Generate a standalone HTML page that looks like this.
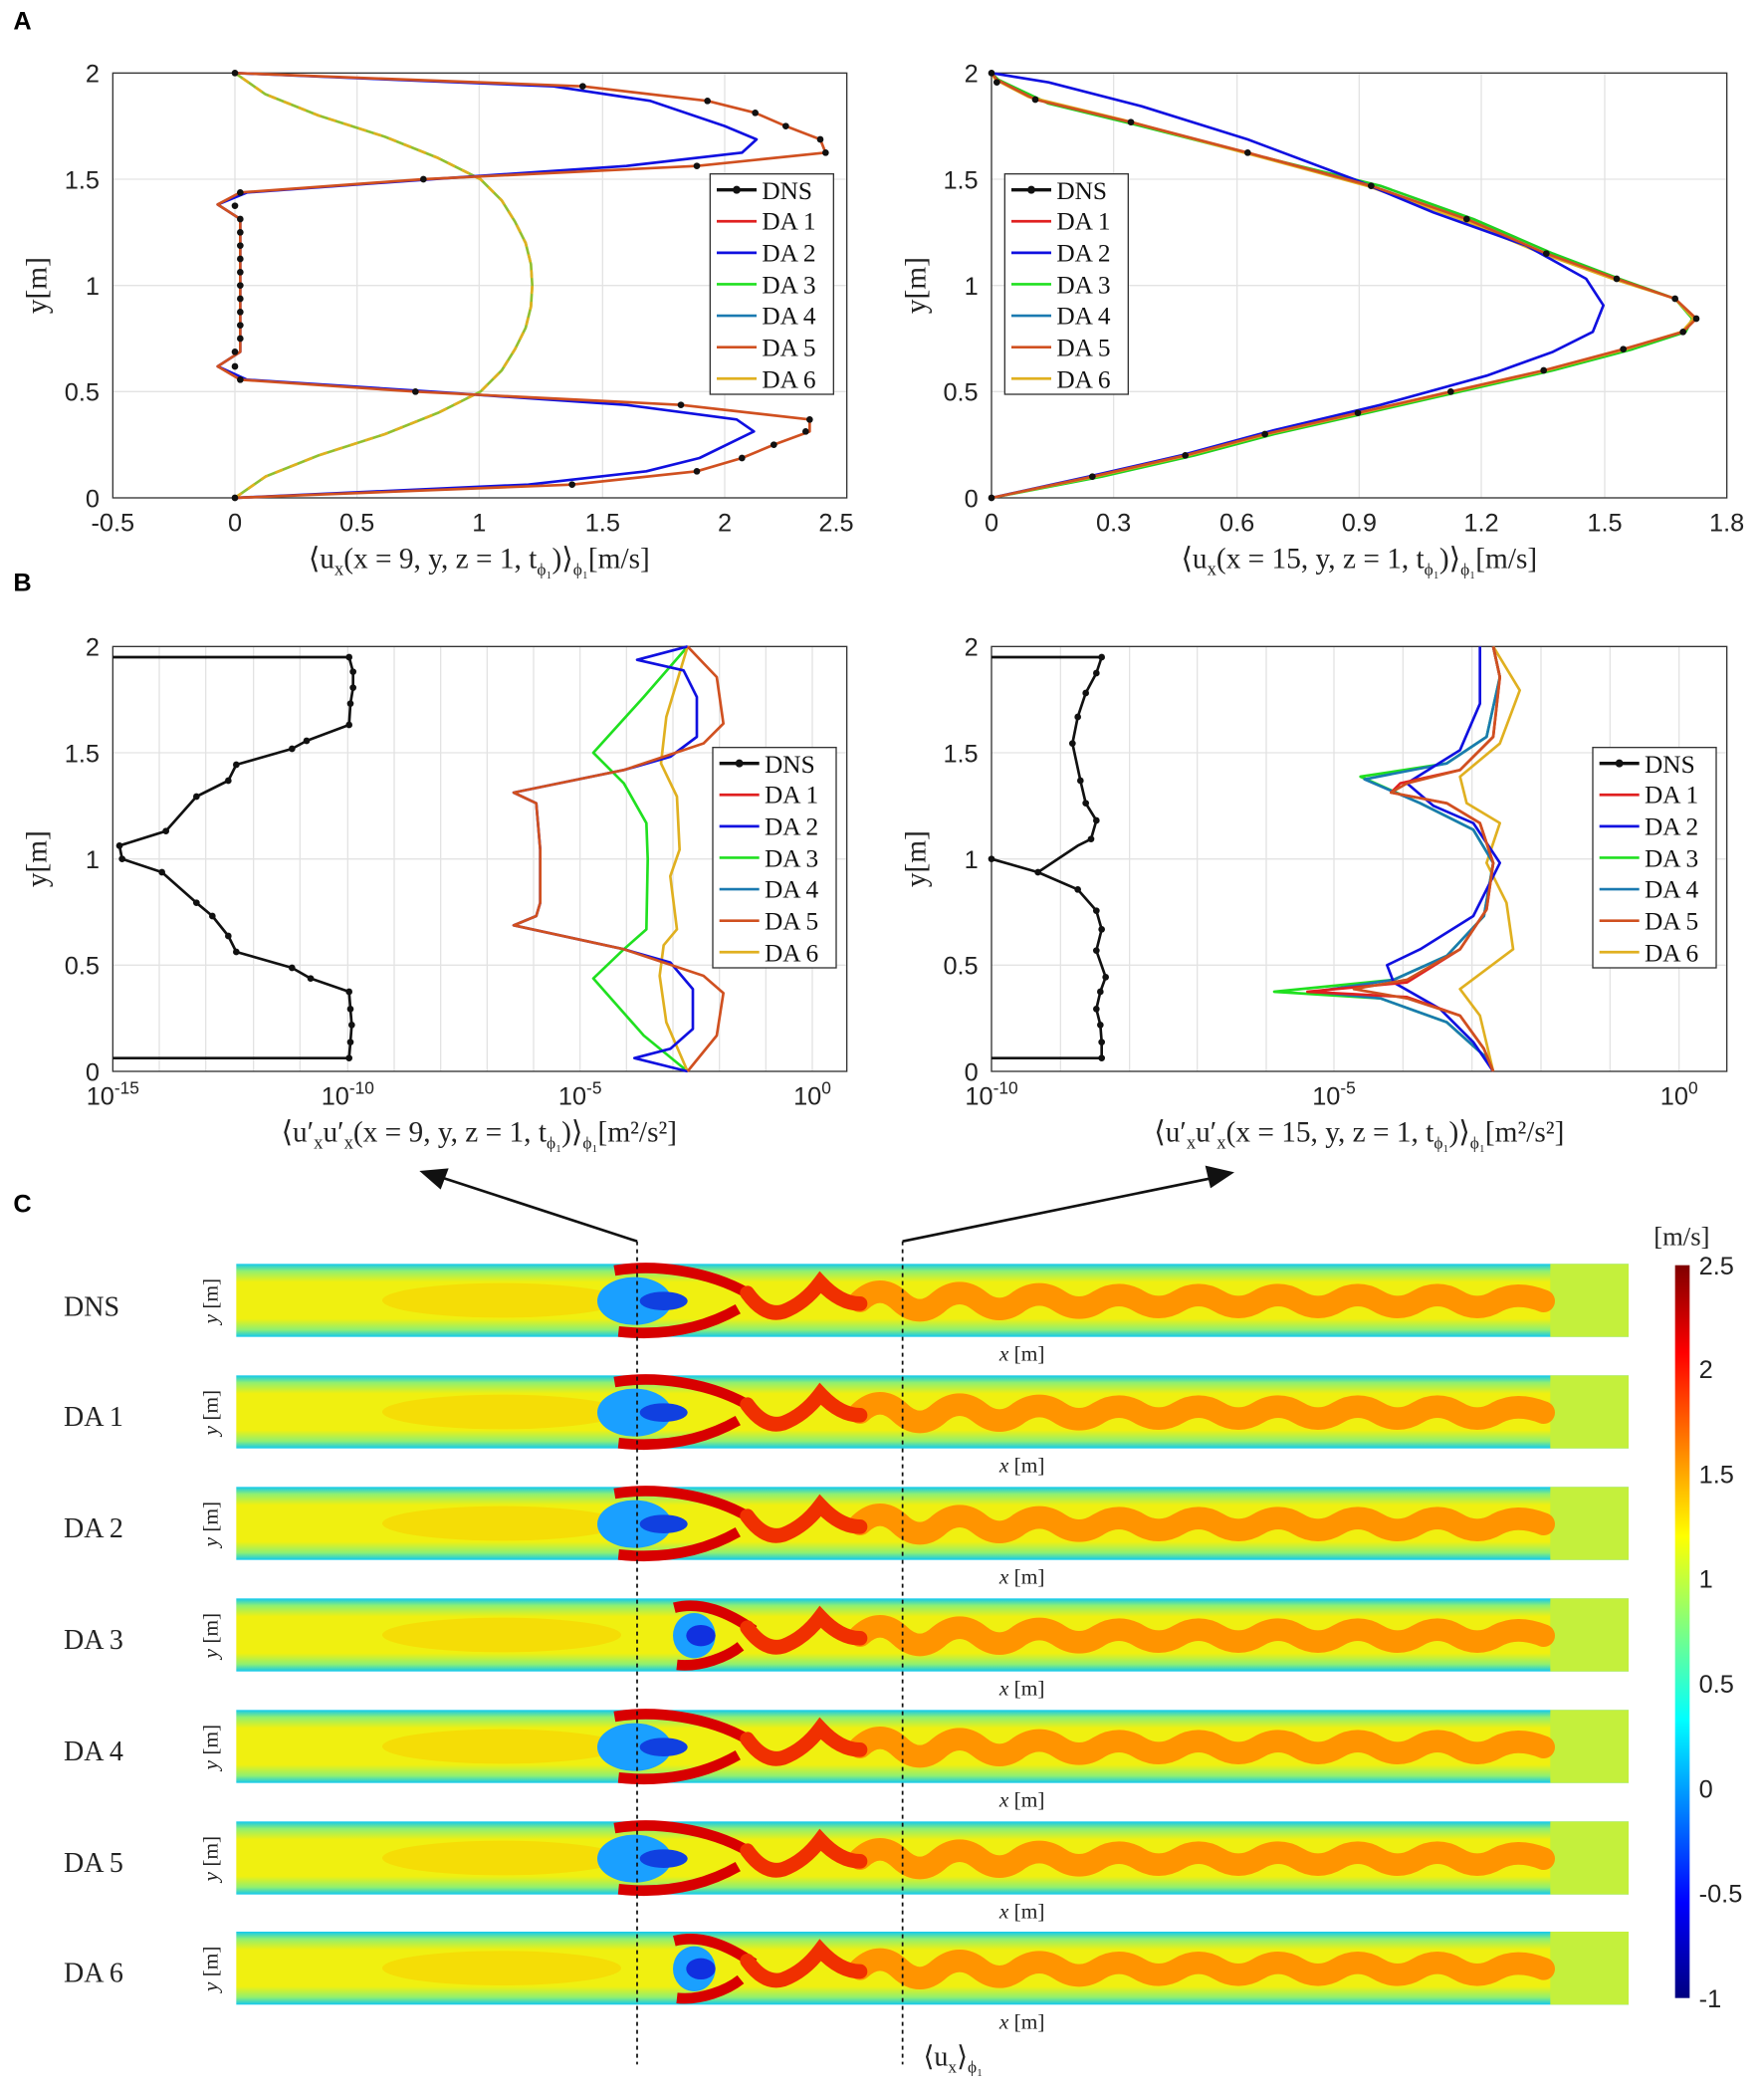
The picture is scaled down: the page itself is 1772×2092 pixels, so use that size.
<!DOCTYPE html>
<html><head><meta charset="utf-8"><style>
html,body{margin:0;padding:0;background:#fff}
svg{display:block}
.t{font-family:"Liberation Sans",sans-serif;font-size:19px;fill:#222}
.s{font-family:"Liberation Serif",serif;fill:#222}
.lg{font-family:"Liberation Serif",serif;font-size:19px;fill:#111}
.P{font-family:"Liberation Sans",sans-serif;font-weight:bold;font-size:19px}
.g{stroke:#e3e3e3;stroke-width:1}
.ax{fill:none;stroke:#333;stroke-width:1}
.c{fill:none;stroke-width:2;stroke-linejoin:round}
</style></head><body>
<svg width="1772" height="2092" viewBox="0 0 1329 1569" preserveAspectRatio="none" xmlns="http://www.w3.org/2000/svg">
<defs>
<linearGradient id="bg" x1="0" y1="0" x2="0" y2="1">
<stop offset="0" stop-color="#10c8f0"/><stop offset="0.1" stop-color="#90f070"/><stop offset="0.25" stop-color="#f0f010"/><stop offset="0.75" stop-color="#f0f010"/><stop offset="0.9" stop-color="#90f070"/><stop offset="1" stop-color="#10c8f0"/></linearGradient>
<linearGradient id="cb" x1="0" y1="0" x2="0" y2="1">
<stop offset="0" stop-color="#800000"/><stop offset="0.12" stop-color="#ff0000"/><stop offset="0.37" stop-color="#ffff00"/><stop offset="0.62" stop-color="#00ffff"/><stop offset="0.87" stop-color="#0000ff"/><stop offset="1" stop-color="#000080"/></linearGradient>
<g id="strip">
<rect x="0" y="0" width="1049" height="55" fill="url(#bg)"/>
<ellipse cx="200" cy="27.5" rx="90" ry="13" fill="#f8d000" opacity="0.6"/>
<rect x="990" y="0" width="59" height="55" fill="#c4f03c"/>
<path d="M470 28 Q 485 14 500 28 T 530 28 Q 545 16 560 28 T 590 28 Q 605 18 620 28 T 650 28 Q 665 19 680 28 T 710 28 Q 725 19 740 28 T 770 28 Q 785 19 800 28 T 830 28 Q 845 19 860 28 T 890 28 Q 905 19 920 28 T 950 28 Q 965 20 985 28" fill="none" stroke="#ff9400" stroke-width="17" stroke-linecap="round"/>
</g>
<g id="wakeA">
<ellipse cx="300" cy="28" rx="28" ry="18" fill="#1aa0ff"/>
<ellipse cx="322" cy="28" rx="18" ry="7" fill="#1040e0"/>
<path d="M285 5 C 315 0, 355 5, 385 22" fill="none" stroke="#d80000" stroke-width="8"/>
<path d="M288 51 C 325 55, 355 47, 378 34" fill="none" stroke="#d80000" stroke-width="8"/>
<path d="M385 22 Q 398 40 412 36 Q 428 30 440 14 Q 455 30 470 30" fill="none" stroke="#f03000" stroke-width="11" stroke-linecap="round"/>
</g>
<g id="wakeB">
<ellipse cx="345" cy="28" rx="16" ry="17" fill="#1aa0ff"/>
<ellipse cx="350" cy="28" rx="11" ry="8" fill="#1030e0"/>
<path d="M330 7 C 350 2, 370 10, 390 24" fill="none" stroke="#d80000" stroke-width="8"/>
<path d="M332 50 C 350 52, 370 44, 380 36" fill="none" stroke="#d80000" stroke-width="8"/>
<path d="M385 22 Q 398 40 412 36 Q 428 30 440 14 Q 455 30 470 30" fill="none" stroke="#f03000" stroke-width="11" stroke-linecap="round"/>
</g>
<g id="legend">
<rect x="0" y="0" width="93" height="166" fill="#fff" stroke="#333"/>
<line x1="5" y1="12" x2="35" y2="12" stroke="#111" stroke-width="2.5"/><circle cx="20" cy="12" r="3" fill="#111"/>
<line x1="5" y1="35.7" x2="35" y2="35.7" stroke="#e02020" stroke-width="2"/>
<line x1="5" y1="59.4" x2="35" y2="59.4" stroke="#1010e0" stroke-width="2"/>
<line x1="5" y1="83.1" x2="35" y2="83.1" stroke="#20e020" stroke-width="2"/>
<line x1="5" y1="106.8" x2="35" y2="106.8" stroke="#1a7ab0" stroke-width="2"/>
<line x1="5" y1="130.5" x2="35" y2="130.5" stroke="#d05020" stroke-width="2"/>
<line x1="5" y1="154.2" x2="35" y2="154.2" stroke="#e0b020" stroke-width="2"/>
</g>
</defs>

<text class="P" x="10" y="22">A</text>
<text class="P" x="10" y="445">B</text>
<text class="P" x="10" y="913">C</text>

<!-- Panel A left -->
<g>
<path class="g" d="M177 55V375M269 55V375M361 55V375M454 55V375M546 55V375M85 135H638M85 215H638M85 295H638"/>
<rect class="ax" x="85" y="55" width="553" height="320"/>
<g class="t" text-anchor="end"><text x="75" y="62">2</text><text x="75" y="142">1.5</text><text x="75" y="222">1</text><text x="75" y="302">0.5</text><text x="75" y="382">0</text></g>
<g class="t" text-anchor="middle"><text x="85" y="400">-0.5</text><text x="177" y="400">0</text><text x="269" y="400">0.5</text><text x="361" y="400">1</text><text x="454" y="400">1.5</text><text x="546" y="400">2</text><text x="630" y="400">2.5</text></g>
<text class="s" x="361" y="428" text-anchor="middle" font-size="22">⟨u<tspan font-size="14" dy="5">x</tspan><tspan dy="-5">(x = 9, y, z = 1, t</tspan><tspan font-size="13" dy="5">ϕ₁</tspan><tspan dy="-5">)⟩</tspan><tspan font-size="13" dy="5">ϕ₁</tspan><tspan dy="-5">[m/s]</tspan></text>
<text class="s" transform="translate(35 215) rotate(-90)" text-anchor="middle" font-size="22">y[m]</text>
<polyline class="c" stroke="#90c030" points="177,375 200,359 240,343 290,327 330,311 362,295 378,279 388,263 396,247 400,231 401,215 400,199 396,183 388,167 378,151 362,135 330,119 290,103 240,87 200,71 177,55"/>
<polyline class="c" stroke="#e0b020" stroke-dasharray="6 6" points="177,375 200,359 240,343 290,327 330,311 362,295 378,279 388,263 396,247 400,231 401,215 400,199 396,183 388,167 378,151 362,135 330,119 290,103 240,87 200,71 177,55"/>
<polyline class="c" stroke="#1010e0" points="177,55 417,65 490,76 546,95 570,105 559,115 472,125 325,135 186,145 164,154 181,165 181,265 164,276 186,286 325,295 472,305 555,316 568,325 527,345 487,355 398,365 177,375"/>
<polyline class="c" stroke="#d05020" points="177,55 439,65 533,76 569,85 592,95 618,105 622,115 525,125 319,135 181,145 164,154 181,165 181,265 164,276 181,286 313,295 513,305 610,316 610,325 583,335 559,345 525,355 431,365 177,375"/>
<g fill="#111"><circle cx="177" cy="55" r="2.5"/><circle cx="439" cy="65" r="2.5"/><circle cx="533" cy="76" r="2.5"/><circle cx="569" cy="85" r="2.5"/><circle cx="592" cy="95" r="2.5"/><circle cx="618" cy="105" r="2.5"/><circle cx="622" cy="115" r="2.5"/><circle cx="525" cy="125" r="2.5"/><circle cx="319" cy="135" r="2.5"/><circle cx="181" cy="145" r="2.5"/><circle cx="177" cy="155" r="2.5"/><circle cx="181" cy="165" r="2.5"/><circle cx="181" cy="175" r="2.5"/><circle cx="181" cy="185" r="2.5"/><circle cx="181" cy="195" r="2.5"/><circle cx="181" cy="205" r="2.5"/><circle cx="181" cy="215" r="2.5"/><circle cx="181" cy="225" r="2.5"/><circle cx="181" cy="235" r="2.5"/><circle cx="181" cy="245" r="2.5"/><circle cx="181" cy="255" r="2.5"/><circle cx="177" cy="265" r="2.5"/><circle cx="177" cy="276" r="2.5"/><circle cx="181" cy="286" r="2.5"/><circle cx="313" cy="295" r="2.5"/><circle cx="513" cy="305" r="2.5"/><circle cx="610" cy="316" r="2.5"/><circle cx="607" cy="325" r="2.5"/><circle cx="583" cy="335" r="2.5"/><circle cx="559" cy="345" r="2.5"/><circle cx="525" cy="355" r="2.5"/><circle cx="431" cy="365" r="2.5"/><circle cx="177" cy="375" r="2.5"/></g>
</g>

<!-- Panel A right -->
<g>
<path class="g" d="M839 55V375M932 55V375M1024 55V375M1116 55V375M1209 55V375M747 135H1301M747 215H1301M747 295H1301"/>
<rect class="ax" x="747" y="55" width="554" height="320"/>
<g class="t" text-anchor="end"><text x="737" y="62">2</text><text x="737" y="142">1.5</text><text x="737" y="222">1</text><text x="737" y="302">0.5</text><text x="737" y="382">0</text></g>
<g class="t" text-anchor="middle"><text x="747" y="400">0</text><text x="839" y="400">0.3</text><text x="932" y="400">0.6</text><text x="1024" y="400">0.9</text><text x="1116" y="400">1.2</text><text x="1209" y="400">1.5</text><text x="1301" y="400">1.8</text></g>
<text class="s" x="1024" y="428" text-anchor="middle" font-size="22">⟨u<tspan font-size="14" dy="5">x</tspan><tspan dy="-5">(x = 15, y, z = 1, t</tspan><tspan font-size="13" dy="5">ϕ₁</tspan><tspan dy="-5">)⟩</tspan><tspan font-size="13" dy="5">ϕ₁</tspan><tspan dy="-5">[m/s]</tspan></text>
<text class="s" transform="translate(697 215) rotate(-90)" text-anchor="middle" font-size="22">y[m]</text>
<polyline class="c" stroke="#20d020" points="747,375 830,359 900,343 960,327 1030,311 1100,295 1170,279 1230,263 1270,250 1275,240 1262,225 1220,210 1170,191 1110,165 1040,140 950,118 860,95 790,78 752,60 747,55"/>
<polyline class="c" stroke="#e0b020" points="747,375 825,359 895,343 955,327 1025,311 1095,295 1165,279 1225,263 1267,250 1276,240 1262,225 1215,210 1162,191 1100,165 1030,140 930,113 845,90 775,73 750,60 747,55"/>
<polyline class="c" stroke="#1010e0" points="747,375 820,359 890,343 960,324 1040,305 1120,283 1170,265 1200,250 1208,230 1195,210 1150,185 1080,160 1020,135 940,105 860,80 790,62 747,55"/>
<polyline class="c" stroke="#d05020" points="747,375 823,359 893,343 953,327 1023,311 1093,295 1163,279 1223,263 1268,250 1278,240 1262,225 1218,210 1165,191 1105,165 1033,140 940,115 852,92 780,75 751,60 747,55"/>
<g fill="#111"><circle cx="747" cy="375" r="2.5"/><circle cx="823" cy="359" r="2.5"/><circle cx="893" cy="343" r="2.5"/><circle cx="953" cy="327" r="2.5"/><circle cx="1023" cy="311" r="2.5"/><circle cx="1093" cy="295" r="2.5"/><circle cx="1163" cy="279" r="2.5"/><circle cx="1223" cy="263" r="2.5"/><circle cx="1268" cy="250" r="2.5"/><circle cx="1278" cy="240" r="2.5"/><circle cx="1262" cy="225" r="2.5"/><circle cx="1218" cy="210" r="2.5"/><circle cx="1165" cy="191" r="2.5"/><circle cx="1105" cy="165" r="2.5"/><circle cx="1033" cy="140" r="2.5"/><circle cx="940" cy="115" r="2.5"/><circle cx="852" cy="92" r="2.5"/><circle cx="780" cy="75" r="2.5"/><circle cx="751" cy="62" r="2.5"/><circle cx="747" cy="55" r="2.5"/></g>
</g>

<!-- Panel B left -->
<g>
<path class="g" d="M120 487V807M155 487V807M191 487V807M226 487V807M262 487V807M297 487V807M332 487V807M367 487V807M402 487V807M437 487V807M472 487V807M507 487V807M542 487V807M577 487V807M612 487V807M85 567H638M85 647H638M85 727H638"/>
<rect class="ax" x="85" y="487" width="553" height="320"/>
<g class="t" text-anchor="end"><text x="75" y="494">2</text><text x="75" y="574">1.5</text><text x="75" y="654">1</text><text x="75" y="734">0.5</text><text x="75" y="814">0</text></g>
<g class="t" text-anchor="middle"><text x="85" y="832">10<tspan font-size="13" dy="-8">-15</tspan></text><text x="262" y="832">10<tspan font-size="13" dy="-8">-10</tspan></text><text x="437" y="832">10<tspan font-size="13" dy="-8">-5</tspan></text><text x="612" y="832">10<tspan font-size="13" dy="-8">0</tspan></text></g>
<text class="s" x="361" y="860" text-anchor="middle" font-size="22">⟨u′<tspan font-size="14" dy="5">x</tspan><tspan dy="-5">u′</tspan><tspan font-size="14" dy="5">x</tspan><tspan dy="-5">(x = 9, y, z = 1, t</tspan><tspan font-size="13" dy="5">ϕ₁</tspan><tspan dy="-5">)⟩</tspan><tspan font-size="13" dy="5">ϕ₁</tspan><tspan dy="-5">[m²/s²]</tspan></text>
<text class="s" transform="translate(35 647) rotate(-90)" text-anchor="middle" font-size="22">y[m]</text>
<polyline class="c" stroke="#20e020" points="518,487 485,525 447,567 470,590 487,620 488,647 487,700 470,715 447,737 485,780 518,807"/>
<polyline class="c" stroke="#e0b020" points="518,487 502,540 498,575 510,600 512,640 505,660 510,700 500,712 497,735 502,770 518,807"/>
<polyline class="c" stroke="#1010e0" points="518,487 480,497 515,505 525,525 525,555 505,570 470,580 387,597 404,605 407,640 407,680 404,690 387,697 470,715 505,725 522,745 522,775 505,790 478,797 518,807"/>
<polyline class="c" stroke="#d05020" points="518,487 540,510 545,545 530,560 470,580 387,597 404,605 407,640 407,680 404,690 387,697 470,715 530,735 545,748 540,780 518,807"/>
<polyline class="c" stroke="#111" points="85,495 263,495 266,506 266,518 264,530 263,546 231,558 220,564 178,576 172,588 148,600 125,626 90,637 92,647 122,657 148,680 160,690 172,705 178,717 220,729 234,737 263,747 264,760 265,772 264,785 263,797 85,797"/>
<g fill="#111"><circle cx="263" cy="495" r="2.5"/><circle cx="266" cy="506" r="2.5"/><circle cx="266" cy="518" r="2.5"/><circle cx="264" cy="530" r="2.5"/><circle cx="263" cy="546" r="2.5"/><circle cx="231" cy="558" r="2.5"/><circle cx="220" cy="564" r="2.5"/><circle cx="178" cy="576" r="2.5"/><circle cx="172" cy="588" r="2.5"/><circle cx="148" cy="600" r="2.5"/><circle cx="125" cy="626" r="2.5"/><circle cx="90" cy="637" r="2.5"/><circle cx="92" cy="647" r="2.5"/><circle cx="122" cy="657" r="2.5"/><circle cx="148" cy="680" r="2.5"/><circle cx="160" cy="690" r="2.5"/><circle cx="172" cy="705" r="2.5"/><circle cx="178" cy="717" r="2.5"/><circle cx="220" cy="729" r="2.5"/><circle cx="234" cy="737" r="2.5"/><circle cx="263" cy="747" r="2.5"/><circle cx="264" cy="760" r="2.5"/><circle cx="265" cy="772" r="2.5"/><circle cx="264" cy="785" r="2.5"/><circle cx="263" cy="797" r="2.5"/></g>
</g>

<!-- Panel B right -->
<g>
<path class="g" d="M799 487V807M851 487V807M902 487V807M954 487V807M1005 487V807M1057 487V807M1109 487V807M1161 487V807M1213 487V807M1265 487V807M747 567H1301M747 647H1301M747 727H1301"/>
<rect class="ax" x="747" y="487" width="554" height="320"/>
<g class="t" text-anchor="end"><text x="737" y="494">2</text><text x="737" y="574">1.5</text><text x="737" y="654">1</text><text x="737" y="734">0.5</text><text x="737" y="814">0</text></g>
<g class="t" text-anchor="middle"><text x="747" y="832">10<tspan font-size="13" dy="-8">-10</tspan></text><text x="1005" y="832">10<tspan font-size="13" dy="-8">-5</tspan></text><text x="1265" y="832">10<tspan font-size="13" dy="-8">0</tspan></text></g>
<text class="s" x="1024" y="860" text-anchor="middle" font-size="22">⟨u′<tspan font-size="14" dy="5">x</tspan><tspan dy="-5">u′</tspan><tspan font-size="14" dy="5">x</tspan><tspan dy="-5">(x = 15, y, z = 1, t</tspan><tspan font-size="13" dy="5">ϕ₁</tspan><tspan dy="-5">)⟩</tspan><tspan font-size="13" dy="5">ϕ₁</tspan><tspan dy="-5">[m²/s²]</tspan></text>
<text class="s" transform="translate(697 647) rotate(-90)" text-anchor="middle" font-size="22">y[m]</text>
<polyline class="c" stroke="#e0b020" points="1125,487 1145,520 1130,560 1100,585 1105,605 1130,620 1120,650 1135,680 1140,715 1100,745 1115,765 1125,807"/>
<polyline class="c" stroke="#20e020" points="1125,487 1130,510 1120,555 1090,575 1025,585 1070,605 1110,625 1125,650 1118,690 1090,720 1050,738 960,747 1040,752 1090,770 1118,795 1125,807"/>
<polyline class="c" stroke="#1a7ab0" points="1125,487 1130,510 1120,555 1090,575 1028,587 1070,605 1110,625 1125,650 1118,690 1090,720 1050,738 990,747 1040,752 1090,770 1118,795 1125,807"/>
<polyline class="c" stroke="#1010e0" points="1115,487 1115,530 1100,565 1060,590 1080,607 1110,620 1130,650 1110,690 1070,715 1045,727 1050,740 1085,760 1110,785 1125,807"/>
<polyline class="c" stroke="#e02020" points="1125,487 1130,510 1125,555 1100,580 1055,590 1048,597 1090,605 1115,620 1125,650 1120,685 1100,715 1060,740 985,747 1060,751 1100,765 1118,790 1125,807"/>
<polyline class="c" stroke="#d05020" points="1125,487 1130,510 1125,555 1100,580 1060,590 1048,597 1090,605 1115,620 1125,650 1120,685 1100,715 1060,738 1020,745 1060,752 1100,765 1118,790 1125,807"/>
<polyline class="c" stroke="#111" points="747,495 830,495 826,507 818,522 812,540 808,560 814,588 818,605 826,618 822,632 812,637 782,657 747,647 782,657 812,670 826,686 830,700 826,716 833,736 829,747 826,760 829,772 830,785 830,797 747,797"/>
<g fill="#111"><circle cx="830" cy="495" r="2.5"/><circle cx="826" cy="507" r="2.5"/><circle cx="818" cy="522" r="2.5"/><circle cx="812" cy="540" r="2.5"/><circle cx="808" cy="560" r="2.5"/><circle cx="814" cy="588" r="2.5"/><circle cx="818" cy="605" r="2.5"/><circle cx="826" cy="618" r="2.5"/><circle cx="822" cy="632" r="2.5"/><circle cx="782" cy="657" r="2.5"/><circle cx="747" cy="647" r="2.5"/><circle cx="812" cy="670" r="2.5"/><circle cx="826" cy="686" r="2.5"/><circle cx="830" cy="700" r="2.5"/><circle cx="826" cy="716" r="2.5"/><circle cx="833" cy="736" r="2.5"/><circle cx="829" cy="747" r="2.5"/><circle cx="826" cy="760" r="2.5"/><circle cx="829" cy="772" r="2.5"/><circle cx="830" cy="785" r="2.5"/><circle cx="830" cy="797" r="2.5"/></g>
</g>

<!-- Legends -->
<use href="#legend" x="535" y="131"/>
<use href="#legend" x="757" y="131"/>
<use href="#legend" x="537" y="563"/>
<use href="#legend" x="1200" y="563"/>
<g class="lg">
<text x="574" y="150">DNS</text><text x="574" y="173">DA 1</text><text x="574" y="197">DA 2</text><text x="574" y="221">DA 3</text><text x="574" y="244">DA 4</text><text x="574" y="268">DA 5</text><text x="574" y="292">DA 6</text>
<text x="796" y="150">DNS</text><text x="796" y="173">DA 1</text><text x="796" y="197">DA 2</text><text x="796" y="221">DA 3</text><text x="796" y="244">DA 4</text><text x="796" y="268">DA 5</text><text x="796" y="292">DA 6</text>
<text x="576" y="582">DNS</text><text x="576" y="605">DA 1</text><text x="576" y="629">DA 2</text><text x="576" y="653">DA 3</text><text x="576" y="676">DA 4</text><text x="576" y="700">DA 5</text><text x="576" y="724">DA 6</text>
<text x="1239" y="582">DNS</text><text x="1239" y="605">DA 1</text><text x="1239" y="629">DA 2</text><text x="1239" y="653">DA 3</text><text x="1239" y="676">DA 4</text><text x="1239" y="700">DA 5</text><text x="1239" y="724">DA 6</text>
</g>

<!-- Panel C strips -->
<g transform="translate(178 952)"><use href="#strip"/><use href="#wakeA"/></g>
<g transform="translate(178 1036)"><use href="#strip"/><use href="#wakeA"/></g>
<g transform="translate(178 1120)"><use href="#strip"/><use href="#wakeA"/></g>
<g transform="translate(178 1204)"><use href="#strip"/><use href="#wakeB"/></g>
<g transform="translate(178 1288)"><use href="#strip"/><use href="#wakeA"/></g>
<g transform="translate(178 1372)"><use href="#strip"/><use href="#wakeA"/></g>
<g transform="translate(178 1455)"><use href="#strip"/><use href="#wakeB"/></g>

<g class="s" font-size="21">
<text x="48" y="991">DNS</text><text x="48" y="1074">DA 1</text><text x="48" y="1158">DA 2</text><text x="48" y="1242">DA 3</text><text x="48" y="1326">DA 4</text><text x="48" y="1410">DA 5</text><text x="48" y="1493">DA 6</text>
</g>
<g class="s" font-size="16">
<text transform="translate(164 980) rotate(-90)" text-anchor="middle"><tspan font-style="italic">y</tspan> [m]</text>
<text transform="translate(164 1064) rotate(-90)" text-anchor="middle"><tspan font-style="italic">y</tspan> [m]</text>
<text transform="translate(164 1148) rotate(-90)" text-anchor="middle"><tspan font-style="italic">y</tspan> [m]</text>
<text transform="translate(164 1232) rotate(-90)" text-anchor="middle"><tspan font-style="italic">y</tspan> [m]</text>
<text transform="translate(164 1316) rotate(-90)" text-anchor="middle"><tspan font-style="italic">y</tspan> [m]</text>
<text transform="translate(164 1400) rotate(-90)" text-anchor="middle"><tspan font-style="italic">y</tspan> [m]</text>
<text transform="translate(164 1483) rotate(-90)" text-anchor="middle"><tspan font-style="italic">y</tspan> [m]</text>
<g text-anchor="middle">
<text x="770" y="1025"><tspan font-style="italic">x</tspan> [m]</text>
<text x="770" y="1109"><tspan font-style="italic">x</tspan> [m]</text>
<text x="770" y="1193"><tspan font-style="italic">x</tspan> [m]</text>
<text x="770" y="1277"><tspan font-style="italic">x</tspan> [m]</text>
<text x="770" y="1361"><tspan font-style="italic">x</tspan> [m]</text>
<text x="770" y="1445"><tspan font-style="italic">x</tspan> [m]</text>
<text x="770" y="1528"><tspan font-style="italic">x</tspan> [m]</text>
</g>
</g>
<text class="s" x="718" y="1556" text-anchor="middle" font-size="21">⟨u<tspan font-size="13" dy="5">x</tspan><tspan dy="-5">⟩</tspan><tspan font-size="13" dy="5">ϕ₁</tspan></text>

<!-- dashed lines and arrows -->
<line x1="480" y1="935" x2="480" y2="1555" stroke="#111" stroke-width="1.3" stroke-dasharray="3 3"/>
<line x1="680" y1="935" x2="680" y2="1555" stroke="#111" stroke-width="1.3" stroke-dasharray="3 3"/>
<line x1="480" y1="935" x2="330" y2="886" stroke="#111" stroke-width="2"/>
<polygon points="316,882 338,880 332,896" fill="#111"/>
<line x1="680" y1="935" x2="915" y2="887" stroke="#111" stroke-width="2"/>
<polygon points="930,883 908,878 912,895" fill="#111"/>

<!-- colorbar -->
<rect x="1262" y="953" width="11" height="552" fill="url(#cb)"/>
<g class="t" font-size="19"><text x="1280" y="960">2.5</text><text x="1280" y="1038">2</text><text x="1280" y="1117">1.5</text><text x="1280" y="1196">1</text><text x="1280" y="1275">0.5</text><text x="1280" y="1354">0</text><text x="1280" y="1433">-0.5</text><text x="1280" y="1512">-1</text></g>
<text class="s" x="1267" y="938" text-anchor="middle" font-size="20">[m/s]</text>
</svg>
</body></html>
